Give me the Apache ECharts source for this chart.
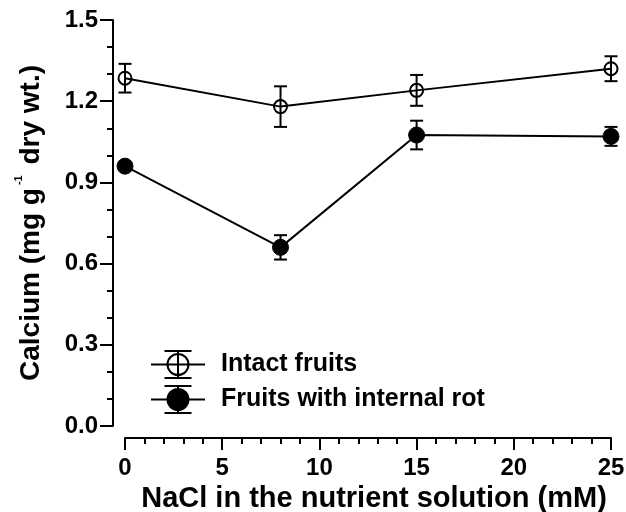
<html>
<head>
<meta charset="utf-8">
<title>Calcium vs NaCl</title>
<script src="https://cdn.jsdelivr.net/npm/echarts@6/dist/echarts.min.js"></script>
<style>
  html, body { margin: 0; padding: 0; background: #fff; }
  #main { width: 626px; height: 512px; }
</style>
</head>
<body>
<div id="main"></div>
<script>
// NaCl concentrations (mM)
var nacl = [0, 8, 15, 25];
// calcium, mg g-1 dry wt.
var intactMean = [1.285, 1.18, 1.24, 1.32];
var intactErr  = [0.053, 0.075, 0.057, 0.046];
var rotMean    = [0.96, 0.66, 1.075, 1.07];
var rotErr     = [0.012, 0.045, 0.053, 0.035];
var seriesNames = ['Intact fruits', 'Fruits with internal rot'];

var myChart = echarts.init(document.getElementById('main'));
var font = "'Liberation Sans', Arial, sans-serif";

// legend icon: line + circle + error bar
var legendIcon = 'path://M0 13.5L54 13.5M27 0L27 27M13.5 0L40.5 0M13.5 27L40.5 27' +
  'M37.5 13.5A10.5 10.5 0 1 1 16.5 13.5A10.5 10.5 0 1 1 37.5 13.5Z';

function pts(means) {
  return nacl.map(function (x, i) { return [x, means[i]]; });
}
function bars(means, errs) {
  return nacl.map(function (x, i) { return [x, means[i] - errs[i], means[i] + errs[i]]; });
}

function renderErr(params, api) {
  var x = api.value(0);
  var top = api.coord([x, api.value(2)]);
  var bot = api.coord([x, api.value(1)]);
  var w = 6.5;
  var st = { stroke: '#000', lineWidth: 2 };
  return {
    type: 'group',
    children: [
      { type: 'line', shape: { x1: top[0], y1: top[1], x2: bot[0], y2: bot[1] }, style: st },
      { type: 'line', shape: { x1: top[0] - w, y1: top[1], x2: top[0] + w, y2: top[1] }, style: st },
      { type: 'line', shape: { x1: bot[0] - w, y1: bot[1], x2: bot[0] + w, y2: bot[1] }, style: st }
    ]
  };
}

var option = {
  backgroundColor: '#fff',
  animation: false,
  textStyle: { fontFamily: font },
  grid: { left: 125, right: 15, top: 20, bottom: 86, containLabel: false, outerBoundsMode: 'none' },
  legend: {
    orient: 'vertical',
    left: 150,
    top: 350,
    padding: 0,
    itemWidth: 54,
    itemHeight: 27,
    itemGap: 6,
    selectedMode: false,
    textStyle: { fontSize: 25, fontWeight: 'bold', color: '#000', fontFamily: font, padding: [0, 0, 0, 11] },
    data: [
      { name: seriesNames[0], icon: legendIcon,
        itemStyle: { color: 'rgba(0,0,0,0)', borderColor: '#000', borderWidth: 2 } },
      { name: seriesNames[1], icon: legendIcon,
        itemStyle: { color: '#000', borderColor: '#000', borderWidth: 2 } }
    ]
  },
  xAxis: {
    type: 'value',
    min: 0, max: 25, interval: 5,
    offset: 12,
    name: 'NaCl in the nutrient solution (mM)',
    nameLocation: 'middle',
    nameGap: 42,
    nameTextStyle: { fontSize: 29, fontWeight: 'bold', color: '#000', fontFamily: font, padding: [0, 0, 0, 12] },
    axisLine: { show: true, onZero: false, lineStyle: { color: '#000', width: 2 } },
    axisTick: { show: true, length: 12, lineStyle: { color: '#000', width: 2 } },
    minorTick: { show: true, splitNumber: 5, length: 6, lineStyle: { color: '#000', width: 2 } },
    axisLabel: { fontSize: 24, fontWeight: 'bold', color: '#000', margin: 18 },
    splitLine: { show: false }
  },
  yAxis: {
    type: 'value',
    min: 0, max: 1.5, interval: 0.3,
    offset: 12,
    name: 'Calcium (mg g{sup|-1} dry wt.)',
    nameLocation: 'middle',
    nameGap: 63,
    nameTextStyle: {
      fontSize: 28, fontWeight: 'bold', color: '#000', fontFamily: font,
      rich: {
        sup: { fontSize: 11, fontWeight: 'bold', color: '#000', fontFamily: font,
               verticalAlign: 'bottom', padding: [0, 3, 26, 3] }
      }
    },
    axisLine: { show: true, onZero: false, lineStyle: { color: '#000', width: 2 } },
    axisTick: { show: true, length: 13, lineStyle: { color: '#000', width: 2 } },
    minorTick: { show: true, splitNumber: 3, length: 6, lineStyle: { color: '#000', width: 2 } },
    axisLabel: {
      fontSize: 24, fontWeight: 'bold', color: '#000', margin: 15,
      formatter: function (v) { return v.toFixed(1); }
    },
    splitLine: { show: false }
  },
  series: [
    {
      type: 'custom', name: 'errIntact', renderItem: renderErr,
      data: bars(intactMean, intactErr), z: 1, silent: true
    },
    {
      type: 'custom', name: 'errRot', renderItem: renderErr,
      data: bars(rotMean, rotErr), z: 1, silent: true
    },
    {
      name: seriesNames[0], type: 'line', data: pts(intactMean), z: 3, clip: false,
      symbol: 'circle', symbolSize: 13,
      lineStyle: { color: '#000', width: 2 },
      itemStyle: { color: 'rgba(0,0,0,0)', borderColor: '#000', borderWidth: 2 }
    },
    {
      name: seriesNames[1], type: 'line', data: pts(rotMean), z: 3, clip: false,
      symbol: 'circle', symbolSize: 16,
      lineStyle: { color: '#000', width: 2 },
      itemStyle: { color: '#000', borderColor: '#000', borderWidth: 1 }
    }
  ]
};
myChart.setOption(option);
</script>
</body>
</html>
